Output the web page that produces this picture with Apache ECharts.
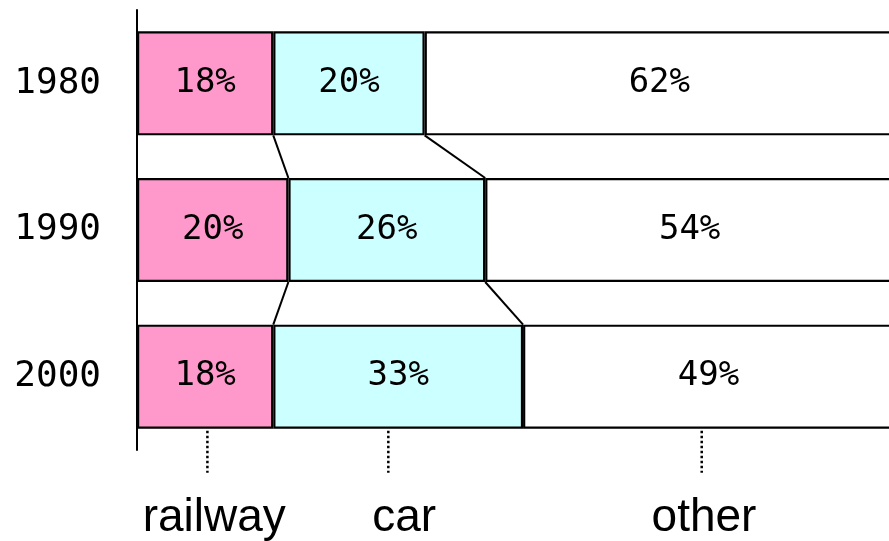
<!DOCTYPE html>
<html><head><meta charset="utf-8">
<script src="https://cdn.jsdelivr.net/npm/echarts@6/dist/echarts.min.js"></script>
<style>html,body{margin:0;padding:0;background:#fff}#c{width:889px;height:541px}</style>
</head><body><div id="c"></div>
<script>
const years = ['1980', '1990', '2000'];
const railway = [18, 20, 18];
const car = [20, 26, 33];
const other = [62, 54, 49];
const modeNames = ['railway', 'car', 'other'];
const modeLinePos = [9.3, 33.2, 74.6];
const modeTextPos = [10.2, 35.3, 74.9];

const chart = echarts.init(document.getElementById('c'));
const BAR = 104;
const FONT = '"DejaVu Sans Mono", "Liberation Mono", monospace';

function barSeries(name, data, color) {
  return {
    name, type: 'bar', stack: 'total', data, barWidth: BAR,
    itemStyle: { color, borderColor: '#000', borderWidth: 2.2 },
    label: { show: true, position: 'inside', formatter: p => p.value + '%', color: '#000', fontSize: 34, fontFamily: FONT },
    z: 3
  };
}

// connector lines between stacked boundaries
const connData = [];
for (let i = 0; i < years.length - 1; i++) {
  connData.push([railway[i], i, railway[i + 1], i + 1]);
  connData.push([railway[i] + car[i], i, railway[i + 1] + car[i + 1], i + 1]);
}

chart.setOption({
  animation: false,
  grid: { left: 137, width: 757, top: 10, height: 440, outerBoundsMode: 'none', containLabel: false },
  xAxis: { type: 'value', min: 0, max: 100, show: false },
  yAxis: {
    type: 'category', data: years, inverse: true,
    axisLine: { show: true, lineStyle: { color: '#000', width: 2 } },
    axisTick: { show: false },
    axisLabel: { color: '#000', fontSize: 36, fontFamily: FONT, margin: 36 }
  },
  series: [
    barSeries('railway', railway, '#FF99CC'),
    barSeries('car', car, '#CCFFFF'),
    barSeries('other', other, '#FFFFFF'),
    {
      type: 'custom', data: connData, clip: false, z: 4,
      renderItem: (params, api) => {
        const a = api.coord([api.value(0), api.value(1)]);
        const b = api.coord([api.value(2), api.value(3)]);
        return { type: 'line', shape: { x1: a[0], y1: a[1] + BAR / 2, x2: b[0], y2: b[1] - BAR / 2 },
          style: { stroke: '#000', lineWidth: 2 } };
      }
    },
    {
      type: 'custom', data: modeLinePos.map((v, i) => [v, years.length - 1, i, modeTextPos[i]]), clip: false, z: 4,
      renderItem: (params, api) => {
        const p = api.coord([api.value(0), api.value(1)]);
        const t = api.coord([api.value(3), api.value(1)]);
        const y0 = p[1] + BAR / 2;
        return { type: 'group', children: [
          { type: 'line', shape: { x1: p[0], y1: y0 + 2, x2: p[0], y2: y0 + 44 },
            style: { stroke: '#000', lineWidth: 2.5, lineDash: [2.5, 2.5] } },
          { type: 'text', style: { text: modeNames[api.value(2)], x: t[0], y: y0 + 90, align: 'center', verticalAlign: 'middle',
            fontSize: 46, fontFamily: '"Liberation Sans", Arial, sans-serif', fill: '#000' } }
        ] };
      }
    }
  ]
});
</script></body></html>
